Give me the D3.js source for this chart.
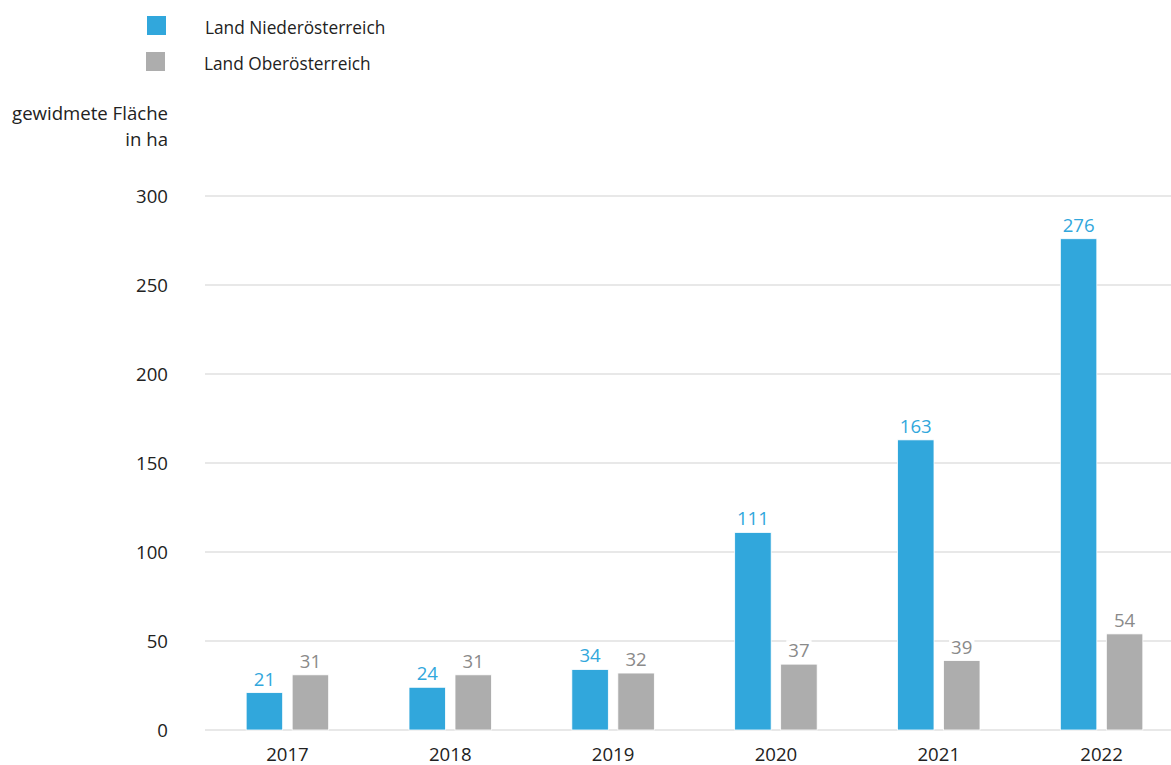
<!DOCTYPE html>
<html>
<head>
<meta charset="utf-8">
<script src="https://cdn.jsdelivr.net/npm/d3@7"></script>
<style>
  html, body { margin: 0; padding: 0; background: #fff; }
  svg text { font-family: "Segoe UI", "Open Sans", "Noto Sans", sans-serif; font-weight: 400; }
</style>
</head>
<body>
<svg id="chart" width="1171" height="765"></svg>
<script>
const YEARS = ['2017', '2018', '2019', '2020', '2021', '2022'];
const SERIES = ['Land Niederösterreich', 'Land Oberösterreich'];
const NOE = [21, 24, 34, 111, 163, 276];
const OOE = [31, 31, 32, 37, 39, 54];
const Y_TICKS = [0, 50, 100, 150, 200, 250, 300];
const COLORS = ['#31a7dc', '#adadad'];
const LABEL_COLORS = ['#31a7dc', '#8a8a8a'];

const svg = d3.select('#chart');
const W = 1171, FS = 18.6;

const x = d3.scaleBand().domain(YEARS).range([206, 1183]).padding(0);
const y = d3.scaleLinear().domain([0, 300]).range([730, 196]);
const barW = 36.5, gap = 9.5;

// gridlines
svg.append('g').selectAll('line').data(Y_TICKS).enter().append('line')
  .attr('x1', 205).attr('x2', W)
  .attr('y1', d => y(d)).attr('y2', d => y(d))
  .attr('stroke', '#e0e0e0').attr('stroke-width', 1.3);

// y tick labels
svg.append('g').selectAll('text').data(Y_TICKS).enter().append('text')
  .attr('x', 168).attr('y', d => y(d)).attr('dy', '0.36em')
  .attr('text-anchor', 'end').attr('font-size', FS).attr('fill', '#222')
  .text(d => d);

// y axis title
svg.append('text').attr('x', 168).attr('y', 120).attr('text-anchor', 'end')
  .attr('font-size', FS).attr('fill', '#222').text('gewidmete Fläche');
svg.append('text').attr('x', 168).attr('y', 146).attr('text-anchor', 'end')
  .attr('font-size', FS).attr('fill', '#222').text('in ha');

// bars + labels
const rows = YEARS.map((yr, i) => ({ yr, vals: [NOE[i], OOE[i]] }));
const grp = svg.append('g').selectAll('g').data(rows).enter().append('g')
  .attr('transform', d => `translate(${x(d.yr) + x.bandwidth() / 2},0)`);

grp.each(function(d) {
  const g = d3.select(this);
  d.vals.forEach((v, s) => {
    const bx = s === 0 ? -(barW + gap / 2) : gap / 2;
    g.append('rect').attr('x', bx).attr('y', y(v))
      .attr('width', barW).attr('height', y(0) - y(v))
      .attr('fill', COLORS[s]).attr('stroke', '#fff').attr('stroke-width', 0.8);
    const lbl = g.append('text').attr('x', bx + barW / 2).attr('y', y(v) - 7)
      .attr('text-anchor', 'middle').attr('font-size', FS)
      .attr('fill', LABEL_COLORS[s]).text(v);
    const bb = lbl.node().getBBox();
    g.insert('rect', () => lbl.node())
      .attr('x', bb.x - 2).attr('y', bb.y + 3).attr('width', bb.width + 4).attr('height', bb.height - 5)
      .attr('fill', '#fff');
  });
});

// x labels
svg.append('g').selectAll('text').data(YEARS).enter().append('text')
  .attr('x', d => x(d) + x.bandwidth() / 2).attr('y', 761)
  .attr('text-anchor', 'middle').attr('font-size', FS).attr('fill', '#222')
  .text(d => d);

// legend
const leg = svg.append('g').selectAll('g').data(SERIES).enter().append('g')
  .attr('transform', (d, i) => `translate(0,${16 + i * 36})`);
leg.append('rect').attr('x', (d, i) => 147 - i).attr('y', 0).attr('width', 19).attr('height', 19)
  .attr('fill', (d, i) => COLORS[i]);
leg.append('text').attr('x', (d, i) => 205 - i).attr('y', 18)
  .attr('font-size', 17.3).attr('fill', '#222').text(d => d);
</script>
</body>
</html>
